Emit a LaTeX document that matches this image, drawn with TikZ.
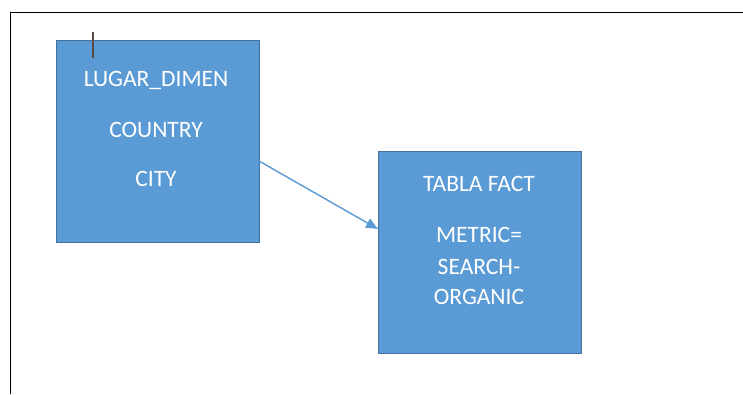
\documentclass[tikz,border=0pt]{standalone}
\usepackage{fontspec}
\setmainfont{Carlito}
\usetikzlibrary{arrows.meta}
\definecolor{boxfill}{HTML}{5B9BD5}
\definecolor{boxedge}{HTML}{41719C}
\definecolor{caret}{HTML}{5A4A42}
\begin{document}
\begin{tikzpicture}[x=1pt,y=-1pt,
  tablebox/.style={draw=boxedge,fill=boxfill,line width=1.2pt,minimum width=203pt,minimum height=202pt,inner sep=0pt,anchor=north west},
  boxtext/.style={text=white,font=\fontsize{23.5}{23.5}\selectfont,inner sep=0pt},
  link/.style={draw=boxfill,line width=1.4pt,-{Triangle[length=12pt,width=10pt]}}]
  \useasboundingbox (0,0) rectangle (743,394);
  \fill[white] (0,0) rectangle (743,394);
  % page frame
  \draw[line width=1pt] (10,394) -- (10,12) -- (743,12);
  % dimension table
  \node[tablebox] (dim) at (56,40) {};
  \node[boxtext] (dimA) at (156,80) {LUGAR\_DIMEN};
  \node[boxtext] (dimB) at (156,130) {COUNTRY};
  \node[boxtext] (dimC) at (156,179) {CITY};
  % fact table
  \node[tablebox] (fact) at (378,151) {};
  \node[boxtext] (factA) at (479,184) {TABLA FACT};
  \node[boxtext] (factB) at (479,235) {METRIC=};
  \node[boxtext] (factC) at (479,267) {SEARCH-};
  \node[boxtext] (factD) at (479,297) {ORGANIC};
  % text cursor
  \coordinate (caretTop) at (93,32);
  \coordinate (caretBot) at (93,58);
  \draw[caret,line width=1.2pt] (caretTop) -- (caretBot);
  % relation arrow
  \coordinate (src) at (259,161);
  \coordinate (dst) at (378,229);
  \draw[link] (src) -- (dst);
\end{tikzpicture}
\end{document}
